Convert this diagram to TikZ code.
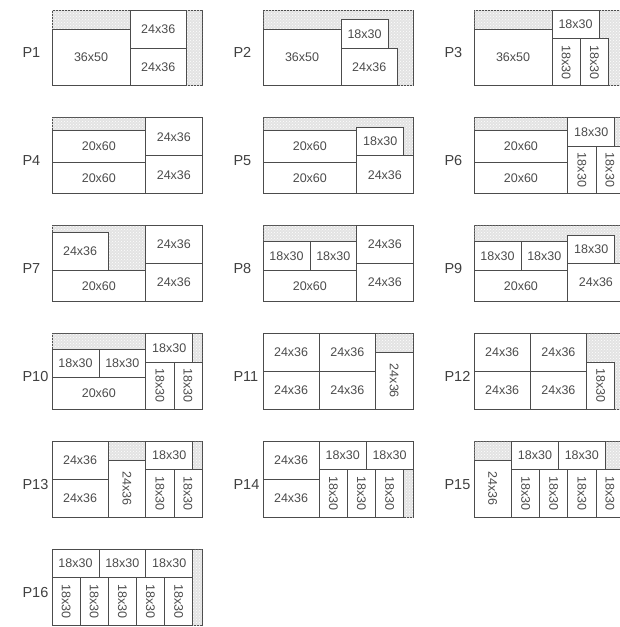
\documentclass[tikz,border=0pt]{standalone}
\usepackage{fontspec}
\setmainfont{Liberation Sans}
\usetikzlibrary{positioning,patterns}

\newcommand{\piece}[6]{\node[piece, minimum width=#4*1.5625pt, minimum height=#5*1.58pt] (#1) at (#2,#3) {#6};}
\newcommand{\turned}[1]{\rotatebox{-90}{#1}}

\begin{document}
\begin{tikzpicture}[
        x=1pt, y=-1pt,
        node distance=32pt and 61pt,
        sheet/.style={draw=black!70, line width=0.7pt, anchor=north west, minimum width=150pt, minimum height=75.84pt, inner sep=0pt, outer sep=0pt, fill=black!11, postaction={pattern=crosshatch dots, pattern color=white}},
        piece/.style={draw=black!70, line width=0.7pt, fill=white, anchor=north west, inner sep=0pt, outer sep=0pt, text=black!70, font=\fontsize{12.5}{14}\selectfont},
        tag/.style={anchor=west, text=black!75, font=\fontsize{14.5}{16}\selectfont},
        inch/.style={x=1.5625pt, y=-1.58pt}
    ]
        \useasboundingbox (0,0) rectangle (620,627);
        \clip (0,0) rectangle (620,627);

        % sheets, 48 x 96
        \node[sheet] (s1) at (52,10) {};
        \node[sheet, right=of s1] (s2) {};
        \node[sheet, right=of s2] (s3) {};
        \node[sheet, below=of s1] (s4) {};
        \node[sheet, right=of s4] (s5) {};
        \node[sheet, right=of s5] (s6) {};
        \node[sheet, below=of s4] (s7) {};
        \node[sheet, right=of s7] (s8) {};
        \node[sheet, right=of s8] (s9) {};
        \node[sheet, below=of s7] (s10) {};
        \node[sheet, right=of s10] (s11) {};
        \node[sheet, right=of s11] (s12) {};
        \node[sheet, below=of s10] (s13) {};
        \node[sheet, right=of s13] (s14) {};
        \node[sheet, right=of s14] (s15) {};
        \node[sheet, below=of s13] (s16) {};

        \foreach \n in {1,...,16}
            \node[tag] (p\n) at ([xshift=-33pt, yshift=-5pt]s\n.west) {P\n};

        % P1
        \begin{scope}[shift={(s1.north west)}, inch]
            \piece{s1a}{0}{12}{50}{36}{36x50}
            \piece{s1b}{50}{0}{36}{24}{24x36}
            \piece{s1c}{50}{24}{36}{24}{24x36}
        \end{scope}
        % P2
        \begin{scope}[shift={(s2.north west)}, inch]
            \piece{s2a}{0}{12}{50}{36}{36x50}
            \piece{s2b}{50}{6}{30}{18}{18x30}
            \piece{s2c}{50}{24}{36}{24}{24x36}
        \end{scope}
        % P3
        \begin{scope}[shift={(s3.north west)}, inch]
            \piece{s3a}{0}{12}{50}{36}{36x50}
            \piece{s3b}{50}{0}{30}{18}{18x30}
            \piece{s3c}{50}{18}{18}{30}{\turned{18x30}}
            \piece{s3d}{68}{18}{18}{30}{\turned{18x30}}
        \end{scope}
        % P4
        \begin{scope}[shift={(s4.north west)}, inch]
            \piece{s4a}{0}{8}{60}{20}{20x60}
            \piece{s4b}{0}{28}{60}{20}{20x60}
            \piece{s4c}{60}{0}{36}{24}{24x36}
            \piece{s4d}{60}{24}{36}{24}{24x36}
        \end{scope}
        % P5
        \begin{scope}[shift={(s5.north west)}, inch]
            \piece{s5a}{0}{8}{60}{20}{20x60}
            \piece{s5b}{0}{28}{60}{20}{20x60}
            \piece{s5c}{60}{6}{30}{18}{18x30}
            \piece{s5d}{60}{24}{36}{24}{24x36}
        \end{scope}
        % P6
        \begin{scope}[shift={(s6.north west)}, inch]
            \piece{s6a}{0}{8}{60}{20}{20x60}
            \piece{s6b}{0}{28}{60}{20}{20x60}
            \piece{s6c}{60}{0}{30}{18}{18x30}
            \piece{s6d}{60}{18}{18}{30}{\turned{18x30}}
            \piece{s6e}{78}{18}{18}{30}{\turned{18x30}}
        \end{scope}
        % P7
        \begin{scope}[shift={(s7.north west)}, inch]
            \piece{s7a}{0}{4}{36}{24}{24x36}
            \piece{s7b}{0}{28}{60}{20}{20x60}
            \piece{s7c}{60}{0}{36}{24}{24x36}
            \piece{s7d}{60}{24}{36}{24}{24x36}
        \end{scope}
        % P8
        \begin{scope}[shift={(s8.north west)}, inch]
            \piece{s8a}{0}{10}{30}{18}{18x30}
            \piece{s8b}{30}{10}{30}{18}{18x30}
            \piece{s8c}{0}{28}{60}{20}{20x60}
            \piece{s8d}{60}{0}{36}{24}{24x36}
            \piece{s8e}{60}{24}{36}{24}{24x36}
        \end{scope}
        % P9
        \begin{scope}[shift={(s9.north west)}, inch]
            \piece{s9a}{0}{10}{30}{18}{18x30}
            \piece{s9b}{30}{10}{30}{18}{18x30}
            \piece{s9c}{0}{28}{60}{20}{20x60}
            \piece{s9d}{60}{6}{30}{18}{18x30}
            \piece{s9e}{60}{24}{36}{24}{24x36}
        \end{scope}
        % P10
        \begin{scope}[shift={(s10.north west)}, inch]
            \piece{s10a}{0}{10}{30}{18}{18x30}
            \piece{s10b}{30}{10}{30}{18}{18x30}
            \piece{s10c}{0}{28}{60}{20}{20x60}
            \piece{s10d}{60}{0}{30}{18}{18x30}
            \piece{s10e}{60}{18}{18}{30}{\turned{18x30}}
            \piece{s10f}{78}{18}{18}{30}{\turned{18x30}}
        \end{scope}
        % P11
        \begin{scope}[shift={(s11.north west)}, inch]
            \piece{s11a}{0}{0}{36}{24}{24x36}
            \piece{s11b}{36}{0}{36}{24}{24x36}
            \piece{s11c}{0}{24}{36}{24}{24x36}
            \piece{s11d}{36}{24}{36}{24}{24x36}
            \piece{s11e}{72}{12}{24}{36}{\turned{24x36}}
        \end{scope}
        % P12
        \begin{scope}[shift={(s12.north west)}, inch]
            \piece{s12a}{0}{0}{36}{24}{24x36}
            \piece{s12b}{36}{0}{36}{24}{24x36}
            \piece{s12c}{0}{24}{36}{24}{24x36}
            \piece{s12d}{36}{24}{36}{24}{24x36}
            \piece{s12e}{72}{18}{18}{30}{\turned{18x30}}
        \end{scope}
        % P13
        \begin{scope}[shift={(s13.north west)}, inch]
            \piece{s13a}{0}{0}{36}{24}{24x36}
            \piece{s13b}{0}{24}{36}{24}{24x36}
            \piece{s13c}{36}{12}{24}{36}{\turned{24x36}}
            \piece{s13d}{60}{0}{30}{18}{18x30}
            \piece{s13e}{60}{18}{18}{30}{\turned{18x30}}
            \piece{s13f}{78}{18}{18}{30}{\turned{18x30}}
        \end{scope}
        % P14
        \begin{scope}[shift={(s14.north west)}, inch]
            \piece{s14a}{0}{0}{36}{24}{24x36}
            \piece{s14b}{0}{24}{36}{24}{24x36}
            \piece{s14c}{36}{0}{30}{18}{18x30}
            \piece{s14d}{66}{0}{30}{18}{18x30}
            \piece{s14e}{36}{18}{18}{30}{\turned{18x30}}
            \piece{s14f}{54}{18}{18}{30}{\turned{18x30}}
            \piece{s14g}{72}{18}{18}{30}{\turned{18x30}}
        \end{scope}
        % P15
        \begin{scope}[shift={(s15.north west)}, inch]
            \piece{s15a}{0}{12}{24}{36}{\turned{24x36}}
            \piece{s15b}{24}{0}{30}{18}{18x30}
            \piece{s15c}{54}{0}{30}{18}{18x30}
            \piece{s15d}{24}{18}{18}{30}{\turned{18x30}}
            \piece{s15e}{42}{18}{18}{30}{\turned{18x30}}
            \piece{s15f}{60}{18}{18}{30}{\turned{18x30}}
            \piece{s15g}{78}{18}{18}{30}{\turned{18x30}}
        \end{scope}
        % P16
        \begin{scope}[shift={(s16.north west)}, inch]
            \piece{s16a}{0}{0}{30}{18}{18x30}
            \piece{s16b}{30}{0}{30}{18}{18x30}
            \piece{s16c}{60}{0}{30}{18}{18x30}
            \piece{s16d}{0}{18}{18}{30}{\turned{18x30}}
            \piece{s16e}{18}{18}{18}{30}{\turned{18x30}}
            \piece{s16f}{36}{18}{18}{30}{\turned{18x30}}
            \piece{s16g}{54}{18}{18}{30}{\turned{18x30}}
            \piece{s16h}{72}{18}{18}{30}{\turned{18x30}}
        \end{scope}
    \end{tikzpicture}
\end{document}
